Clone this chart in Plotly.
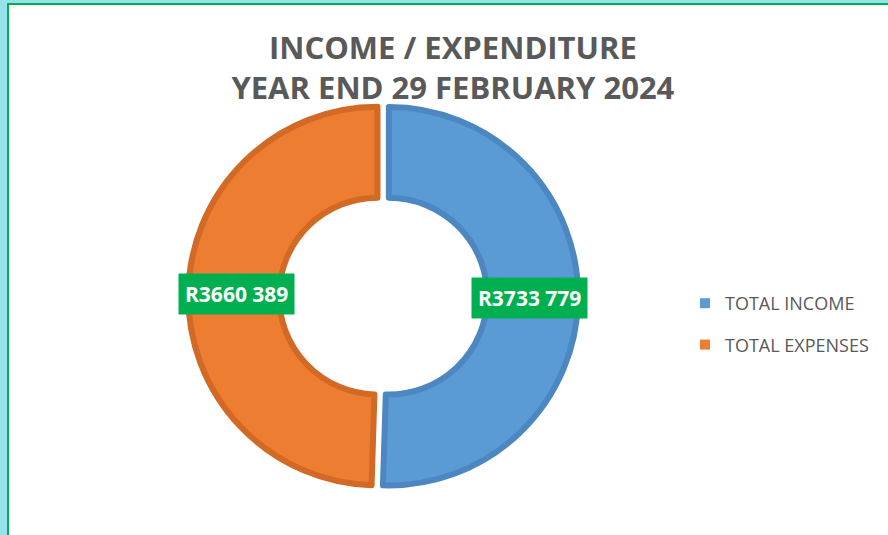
import math
import plotly.graph_objects as go

# ---- data ----
categories = ["TOTAL INCOME", "TOTAL EXPENSES"]
values = [3733779, 3660389]
value_labels = ["R3733 779", "R3660 389"]
colors = ["#5B9BD5", "#ED7D31"]
edge_colors = ["#4C87C2", "#D26A26"]

W, H = 888, 535
# pie domain (paper)
dom_x = [0.212, 0.651]
dom_y = [0.082, 0.811]
hole = 0.52
pull = 0.03

fig = go.Figure()
fig.add_trace(go.Pie(
    labels=categories,
    values=values,
    hole=hole,
    sort=False,
    direction="clockwise",
    rotation=0,
    pull=[pull, pull],
    marker=dict(colors=colors, line=dict(color=edge_colors, width=6)),
    textinfo="none",
    hoverinfo="label+value",
    showlegend=False,
    domain=dict(x=dom_x, y=dom_y),
))

# legend entries (square markers, spaced like the original legend)
for cat, col in zip(categories, colors):
    fig.add_trace(go.Scatter(
        x=[None], y=[None], mode="markers", name=cat, legendgroup=cat,
        marker=dict(symbol="square", size=10, color=col),
        hoverinfo="skip",
    ))

# label boxes placed at mid-angle of each slice, mid-ring (derived from data)
cx = (dom_x[0] + dom_x[1]) / 2 * W
cy = (1 - (dom_y[0] + dom_y[1]) / 2) * H
R = min((dom_x[1] - dom_x[0]) * W, (dom_y[1] - dom_y[0]) * H) / 2 / (1 + pull)
r_mid = R * (1 + hole) / 2 + R * pull * 0.5
total = sum(values)
cum = 0
for v, txt in zip(values, value_labels):
    mid = (cum + v / 2) / total * 2 * math.pi
    cum += v
    px = cx + r_mid * math.sin(mid)
    py = cy - r_mid * math.cos(mid)
    fig.add_annotation(
        x=px / W, y=1 - py / H, xref="paper", yref="paper",
        text=f"<b>{txt}</b>", showarrow=False,
        font=dict(family="Open Sans", size=21, color="white"),
        bgcolor="#00B050", borderpad=6,
        xanchor="center", yanchor="middle",
    )

fig.update_layout(
    width=W, height=H,
    margin=dict(l=0, r=0, t=0, b=0),
    paper_bgcolor="#95E2EB",
    plot_bgcolor="rgba(0,0,0,0)",
    xaxis=dict(visible=False),
    yaxis=dict(visible=False),
    title=dict(
        text="<b>INCOME / EXPENDITURE<br>YEAR END 29 FEBRUARY 2024</b>",
        x=0.51, xanchor="center", y=1 - 59 / H, yanchor="top",
        font=dict(family="Open Sans", size=31, color="#595959"),
    ),
    legend=dict(
        x=685 / W, y=1 - 285 / H, xanchor="left", yanchor="top",
        font=dict(family="Open Sans", size=18, color="#595959"),
        bgcolor="rgba(0,0,0,0)",
        tracegroupgap=15,
    ),
    shapes=[dict(
        type="rect", xref="paper", yref="paper",
        x0=8 / W, x1=1.02, y0=-0.02, y1=1 - 4 / H,
        fillcolor="white", line=dict(color="#00B050", width=2),
        layer="below",
    )],
)

fig.write_html("out.html", config={"displayModeBar": False},
               post_script="document.body.style.margin='0';")
